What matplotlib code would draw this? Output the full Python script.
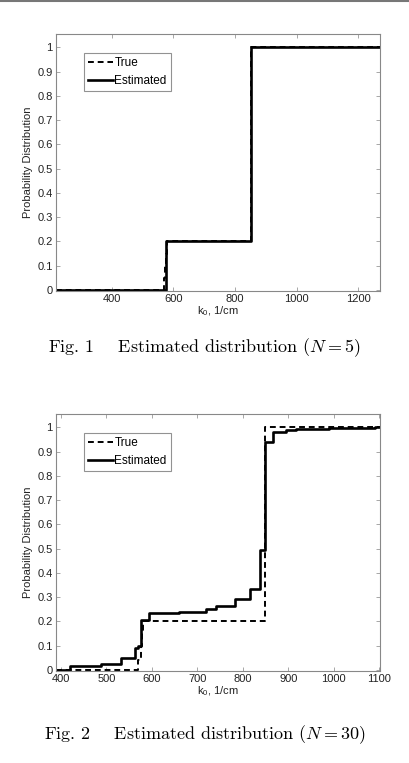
import numpy as np
import matplotlib
matplotlib.use("Agg")
import matplotlib.pyplot as plt

plt.rcParams['font.family'] = ['Liberation Sans', 'DejaVu Sans']
plt.rcParams['mathtext.fontset'] = 'custom'
plt.rcParams['mathtext.rm'] = 'Liberation Sans'
plt.rcParams['mathtext.it'] = 'Liberation Sans:italic'

# Fig. 1 (N = 5): step positions (1/cm) and distribution values after each step
true1_k = [220, 570, 574, 577, 580, 850]
true1_p = [0.0, 0.05, 0.10, 0.15, 0.20, 1.0]
est1_k = [220, 577, 850]
est1_p = [0.0, 0.20, 1.0]

# Fig. 2 (N = 30)
true2_k = [389, 570, 575, 578, 581, 850]
true2_p = [0.0, 0.04, 0.10, 0.15, 0.20, 1.0]
est2_k = [389, 420, 489, 531, 563, 570, 576, 593, 660, 720, 742, 783, 815, 838, 848,
          866, 895, 918, 990, 1090]
est2_p = [0.0, 0.018, 0.024, 0.048, 0.09, 0.10, 0.205, 0.235, 0.240, 0.250, 0.262,
          0.292, 0.335, 0.495, 0.940, 0.980, 0.988, 0.994, 0.997, 1.0]

W, H = 409, 763
fig = plt.figure(figsize=(W / 100, H / 100), dpi=100)

# thin gray rule at the very top of the page
fig.add_artist(plt.Line2D([0, 1], [1 - 1 / H, 1 - 1 / H], color='#777777', lw=1.5))


def panel(top, xlim, xticks, tk, tp, ek, ep, caption, cap_y):
    ax = fig.add_axes([56 / W, 1 - (top + 257) / H, 324 / W, 257 / H])
    tk = list(tk) + [xlim[1]]
    tp = list(tp) + [tp[-1]]
    ek = list(ek) + [xlim[1]]
    ep = list(ep) + [ep[-1]]
    ax.step(tk, tp, where='post', color='black', lw=1.4, ls=(0, (3, 2)), label='True')
    ax.step(ek, ep, where='post', color='black', lw=1.9, label='Estimated')
    ax.set_xlim(*xlim)
    ax.set_ylim(-0.004, 1.055)
    ax.set_xticks(xticks)
    ax.set_yticks(np.arange(0, 1.01, 0.1))
    ax.set_yticklabels(['0'] + ['%.1f' % v for v in np.arange(0.1, 0.95, 0.1)] + ['1'])
    ax.tick_params(direction='in', length=3, width=0.6, top=True, right=True,
                   labelsize=8, colors='#999999', labelcolor='#222222', pad=2.5)
    for s in ax.spines.values():
        s.set_color('#888888')
        s.set_linewidth(0.8)
    ax.set_xlabel('k$_{0}$, 1/cm', fontsize=8, labelpad=0, color='#222222')
    ax.set_ylabel('Probability Distribution', fontsize=8, labelpad=3, color='#222222')
    leg = ax.legend(loc='upper left', bbox_to_anchor=(0.087, 0.925), fontsize=8.5,
                    frameon=True, fancybox=False, handlelength=2.1, handletextpad=0.1,
                    borderpad=0.35, labelspacing=0.45, borderaxespad=0)
    leg.get_frame().set_edgecolor('#777777')
    leg.get_frame().set_linewidth(0.8)
    fig.text(0.5, 1 - cap_y / H, caption, ha='center', va='center', fontsize=13,
             family='cmr10', math_fontfamily='cm')
    return ax


panel(34, (219, 1270), [400, 600, 800, 1000, 1200], true1_k, true1_p, est1_k, est1_p,
      'Fig. 1    Estimated distribution ($N=5$)', 348)
panel(414, (389, 1102), [400, 500, 600, 700, 800, 900, 1000, 1100], true2_k, true2_p,
      est2_k, est2_p, 'Fig. 2    Estimated distribution ($N=30$)', 735)

fig.savefig('out.png', dpi=100)
